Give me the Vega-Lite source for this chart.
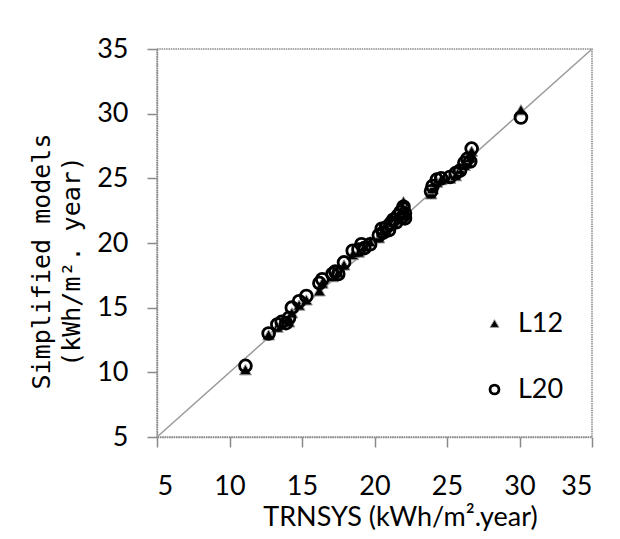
{
  "$schema": "https://vega.github.io/schema/vega-lite/v6.json",
  "width": 435,
  "height": 388,
  "autosize": {"type": "none"},
  "padding": {"left": 157, "top": 49, "right": 28, "bottom": 102},
  "background": "white",
  "config": {
    "font": "Lato",
    "view": {"stroke": "#8a8a8a", "strokeWidth": 1.5, "strokeDash": [1.5, 0.8]},
    "axis": {
      "grid": false,
      "domainColor": "#8a8a8a",
      "domainWidth": 1.5,
      "domainDash": [1.5, 0.8],
      "tickColor": "#8a8a8a",
      "tickWidth": 1.5,
      "tickSize": 10,
      "labelFont": "Lato",
      "labelFontSize": 27,
      "labelColor": "black",
      "titleColor": "black"
    }
  },
  "datasets": {
    "pts": [
      {"series": "L12", "x": 11.1, "y": 10.2}, {"series": "L12", "x": 12.7, "y": 12.9},
      {"series": "L12", "x": 13.3, "y": 13.5}, {"series": "L12", "x": 13.6, "y": 13.7},
      {"series": "L12", "x": 13.9, "y": 13.9}, {"series": "L12", "x": 14.1, "y": 13.9},
      {"series": "L12", "x": 14.3, "y": 14.6}, {"series": "L12", "x": 14.8, "y": 15.2},
      {"series": "L12", "x": 15.3, "y": 15.6}, {"series": "L12", "x": 16.2, "y": 16.3},
      {"series": "L12", "x": 16.4, "y": 16.9}, {"series": "L12", "x": 17.1, "y": 17.4},
      {"series": "L12", "x": 17.3, "y": 17.6}, {"series": "L12", "x": 17.5, "y": 17.7},
      {"series": "L12", "x": 17.9, "y": 18.3}, {"series": "L12", "x": 18.5, "y": 19.1},
      {"series": "L12", "x": 18.9, "y": 19.3}, {"series": "L12", "x": 19.1, "y": 19.6},
      {"series": "L12", "x": 19.3, "y": 19.7}, {"series": "L12", "x": 19.7, "y": 20.1},
      {"series": "L12", "x": 20.3, "y": 20.4}, {"series": "L12", "x": 20.5, "y": 20.8},
      {"series": "L12", "x": 20.6, "y": 21.0}, {"series": "L12", "x": 20.8, "y": 21.0},
      {"series": "L12", "x": 21.0, "y": 21.3}, {"series": "L12", "x": 21.1, "y": 21.7},
      {"series": "L12", "x": 21.3, "y": 21.6}, {"series": "L12", "x": 21.5, "y": 21.9},
      {"series": "L12", "x": 21.6, "y": 21.8}, {"series": "L12", "x": 21.8, "y": 22.2},
      {"series": "L12", "x": 21.9, "y": 22.5}, {"series": "L12", "x": 22.0, "y": 23.2},
      {"series": "L12", "x": 22.1, "y": 22.6}, {"series": "L12", "x": 22.1, "y": 22.1},
      {"series": "L12", "x": 23.9, "y": 23.8}, {"series": "L12", "x": 24.0, "y": 24.2},
      {"series": "L12", "x": 24.3, "y": 24.7}, {"series": "L12", "x": 24.6, "y": 24.9},
      {"series": "L12", "x": 25.2, "y": 25.0}, {"series": "L12", "x": 25.6, "y": 25.2},
      {"series": "L12", "x": 25.9, "y": 25.7}, {"series": "L12", "x": 26.2, "y": 26.0},
      {"series": "L12", "x": 26.4, "y": 26.3}, {"series": "L12", "x": 26.6, "y": 26.6},
      {"series": "L12", "x": 26.7, "y": 27.1}, {"series": "L12", "x": 30.1, "y": 30.3},
      {"series": "L20", "x": 11.1, "y": 10.5}, {"series": "L20", "x": 12.7, "y": 13.0},
      {"series": "L20", "x": 13.3, "y": 13.7}, {"series": "L20", "x": 13.6, "y": 13.9},
      {"series": "L20", "x": 13.9, "y": 13.8}, {"series": "L20", "x": 14.1, "y": 14.2},
      {"series": "L20", "x": 14.3, "y": 15.0}, {"series": "L20", "x": 14.8, "y": 15.5},
      {"series": "L20", "x": 15.3, "y": 15.9}, {"series": "L20", "x": 16.2, "y": 16.9},
      {"series": "L20", "x": 16.4, "y": 17.2}, {"series": "L20", "x": 17.1, "y": 17.6},
      {"series": "L20", "x": 17.3, "y": 17.8}, {"series": "L20", "x": 17.5, "y": 17.6},
      {"series": "L20", "x": 17.9, "y": 18.5}, {"series": "L20", "x": 18.5, "y": 19.4},
      {"series": "L20", "x": 18.9, "y": 19.5}, {"series": "L20", "x": 19.1, "y": 19.9},
      {"series": "L20", "x": 19.3, "y": 19.6}, {"series": "L20", "x": 19.7, "y": 19.9},
      {"series": "L20", "x": 20.3, "y": 20.6}, {"series": "L20", "x": 20.5, "y": 21.1},
      {"series": "L20", "x": 20.6, "y": 20.8}, {"series": "L20", "x": 20.8, "y": 21.2},
      {"series": "L20", "x": 21.0, "y": 21.0}, {"series": "L20", "x": 21.1, "y": 21.5},
      {"series": "L20", "x": 21.3, "y": 21.8}, {"series": "L20", "x": 21.5, "y": 21.6},
      {"series": "L20", "x": 21.6, "y": 22.1}, {"series": "L20", "x": 21.8, "y": 22.4},
      {"series": "L20", "x": 21.9, "y": 22.0}, {"series": "L20", "x": 22.0, "y": 22.8},
      {"series": "L20", "x": 22.1, "y": 22.3}, {"series": "L20", "x": 22.1, "y": 21.9},
      {"series": "L20", "x": 23.9, "y": 24.0}, {"series": "L20", "x": 24.0, "y": 24.4},
      {"series": "L20", "x": 24.3, "y": 24.9}, {"series": "L20", "x": 24.6, "y": 25.0},
      {"series": "L20", "x": 25.2, "y": 25.1}, {"series": "L20", "x": 25.6, "y": 25.4},
      {"series": "L20", "x": 25.9, "y": 25.6}, {"series": "L20", "x": 26.2, "y": 26.2},
      {"series": "L20", "x": 26.4, "y": 26.5}, {"series": "L20", "x": 26.6, "y": 26.3},
      {"series": "L20", "x": 26.7, "y": 27.3}, {"series": "L20", "x": 30.1, "y": 29.7}
    ],
    "diag": [{"x": 5, "y": 5}, {"x": 35, "y": 35}]
  },
  "layer": [
    {
      "data": {"name": "diag"},
      "mark": {"type": "line", "color": "#9a9a9a", "strokeWidth": 1.5},
      "encoding": {
        "x": {
          "field": "x", "type": "quantitative",
          "scale": {"domain": [5, 35], "nice": false, "zero": false},
          "axis": {
            "values": [5, 10, 15, 20, 25, 30, 35],
            "labelPadding": 26,
            "title": "TRNSYS (kWh/m².year)",
            "titleFont": "Lato",
            "titleFontSize": 27,
            "titleFontWeight": "normal",
            "titleX": 243,
            "titleY": 88,
            "titleBaseline": "alphabetic"
          }
        },
        "y": {
          "field": "y", "type": "quantitative",
          "scale": {"domain": [5, 35], "nice": false, "zero": false},
          "axis": {
            "values": [5, 10, 15, 20, 25, 30, 35],
            "labelPadding": 19,
            "title": ["Simplified models", "(kWh/m². year)"],
            "titleFont": "DejaVu Sans Mono",
            "titleFontSize": 25,
            "titleFontWeight": "normal",
            "titleLineHeight": 30,
            "titleAngle": -90,
            "titleAlign": "center",
            "titleBaseline": "middle",
            "titleX": -116,
            "titleY": 212
          }
        }
      }
    },
    {
      "data": {"name": "pts"},
      "mark": {"type": "point", "filled": true, "size": 140, "opacity": 1},
      "encoding": {
        "x": {"field": "x", "type": "quantitative"},
        "y": {"field": "y", "type": "quantitative"},
        "shape": {
          "field": "series", "type": "nominal",
          "scale": {"domain": ["L12", "L20"], "range": ["triangle-up", "circle"]},
          "legend": {
            "title": null,
            "orient": "none",
            "legendX": 324,
            "legendY": 261,
            "padding": 0,
            "symbolSize": 80,
            "labelFont": "Lato",
            "labelFontSize": 27,
            "labelColor": "black",
            "labelOffset": 10,
            "rowPadding": 38
          }
        },
        "fill": {
          "field": "series", "type": "nominal",
          "scale": {"domain": ["L12", "L20"], "range": ["black", "transparent"]}
        },
        "stroke": {
          "field": "series", "type": "nominal",
          "scale": {"domain": ["L12", "L20"], "range": ["#9a9a9a", "black"]}
        },
        "strokeWidth": {
          "field": "series", "type": "nominal",
          "scale": {"domain": ["L12", "L20"], "range": [1, 2.8]}
        }
      }
    }
  ]
}
